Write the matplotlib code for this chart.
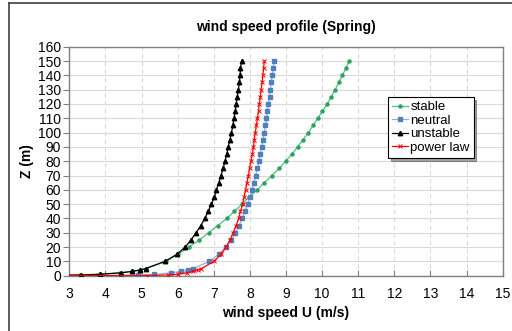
import matplotlib
matplotlib.use("Agg")
import matplotlib.pyplot as plt
from matplotlib.lines import Line2D

plt.rcParams['font.family'] = ['Liberation Sans', 'DejaVu Sans']

z_low = [0.1, 0.5, 1, 2, 3, 4, 5]
z_up = list(range(10, 155, 5))
heights = z_low + z_up

stable = [2.0, 3.3, 3.85, 4.4, 4.73, 4.96, 5.13,
          5.67, 6.02, 6.31, 6.60, 6.86, 7.11, 7.36, 7.57, 7.78, 7.98, 8.20, 8.40,
          8.61, 8.81, 8.99, 9.17, 9.32, 9.47, 9.62, 9.75, 9.88, 10.01, 10.14,
          10.25, 10.36, 10.46, 10.56, 10.66, 10.75]
neutral = [3.83, 4.89, 5.35, 5.82, 6.09, 6.28, 6.42,
           6.88, 7.14, 7.34, 7.49, 7.60, 7.70, 7.79, 7.86, 7.94, 8.00, 8.06, 8.11,
           8.16, 8.21, 8.25, 8.29, 8.33, 8.36, 8.40, 8.43, 8.46, 8.48, 8.51,
           8.55, 8.57, 8.59, 8.62, 8.65, 8.67]
unstable = [2.1, 3.33, 3.85, 4.42, 4.74, 4.97, 5.11,
            5.65, 5.98, 6.21, 6.37, 6.51, 6.64, 6.75, 6.85, 6.93, 7.02, 7.07, 7.14,
            7.20, 7.26, 7.31, 7.36, 7.40, 7.45, 7.49, 7.53, 7.56, 7.60, 7.62,
            7.65, 7.68, 7.71, 7.73, 7.74, 7.77]
power_heights = [0] + heights
power_law = [0.0, 5.15, 5.72, 6.0, 6.26, 6.43, 6.55, 6.66,
             7.00, 7.20, 7.34, 7.45, 7.54, 7.62, 7.69, 7.74, 7.80, 7.84, 7.88,
             7.92, 7.96, 7.99, 8.03, 8.07, 8.10, 8.12, 8.15, 8.18, 8.21, 8.24,
             8.26, 8.29, 8.31, 8.34, 8.36, 8.38, 8.40]

xticks = list(range(3, 16))
yticks = list(range(0, 170, 10))

fig = plt.figure(figsize=(5.12, 3.31), dpi=100)
ax = fig.add_axes([69.3/512, 1-275.7/331, 433.4/512, 229/331])

ax.plot(stable, heights, color='#50c080', lw=0.9, marker='o', ms=2.2,
        mfc='#2ca25f', mec='#2ca25f', label='stable', zorder=3)
ax.plot(neutral, heights, color='#95b3d7', lw=0.9, marker='s', ms=3.3,
        mfc='#4f81bd', mec='#4f81bd', label='neutral', zorder=3)
ax.plot(unstable, heights, color='black', lw=0.9, marker='^', ms=3.2,
        mfc='black', mec='black', label='unstable', zorder=4)
ax.plot(power_law, power_heights, color='#ff0000', lw=0.9, marker='x', ms=3,
        mew=0.7, mec='#ff0000', label='power law', zorder=5)

ax.set_xlim(3, 15)
ax.set_ylim(0, 160)
ax.set_xticks(xticks)
ax.set_yticks(yticks)
ax.grid(axis='y', color='#d9d9d9', lw=0.8, ls='-')
ax.grid(axis='x', color='#d9d9d9', lw=0.8, ls=(0, (4, 3)))
ax.set_axisbelow(True)
for s in ax.spines.values():
    s.set_color('#808080')
    s.set_linewidth(1.0)
ax.tick_params(axis='x', direction='in', length=4, color='#808080',
               labelsize=10, pad=8)
ax.tick_params(axis='y', direction='out', length=4, color='#808080',
               labelsize=10, pad=2)

ax.set_title('wind speed profile (Spring)', fontsize=10, fontweight='bold', pad=11)
ax.set_xlabel('wind speed U (m/s)', fontsize=10, fontweight='bold', labelpad=4)
ax.set_ylabel('Z (m)', fontsize=10, fontweight='bold', labelpad=3)

leg = ax.legend(loc='upper left', bbox_to_anchor=(0.735, 0.78), borderaxespad=0,
                fancybox=False, shadow=True, edgecolor='black', fontsize=9.5,
                handlelength=1.2, handletextpad=0.2, labelspacing=0.1,
                borderpad=0.3, framealpha=1)
leg.get_frame().set_linewidth(0.8)

fig.add_artist(Line2D([9/512, 1], [1-3/331, 1-3/331], color='#404040', lw=1.2,
                      transform=fig.transFigure))
fig.add_artist(Line2D([9/512, 9/512], [0, 1-3/331], color='#404040', lw=1.2,
                      transform=fig.transFigure))

fig.savefig('out.png', dpi=100)
